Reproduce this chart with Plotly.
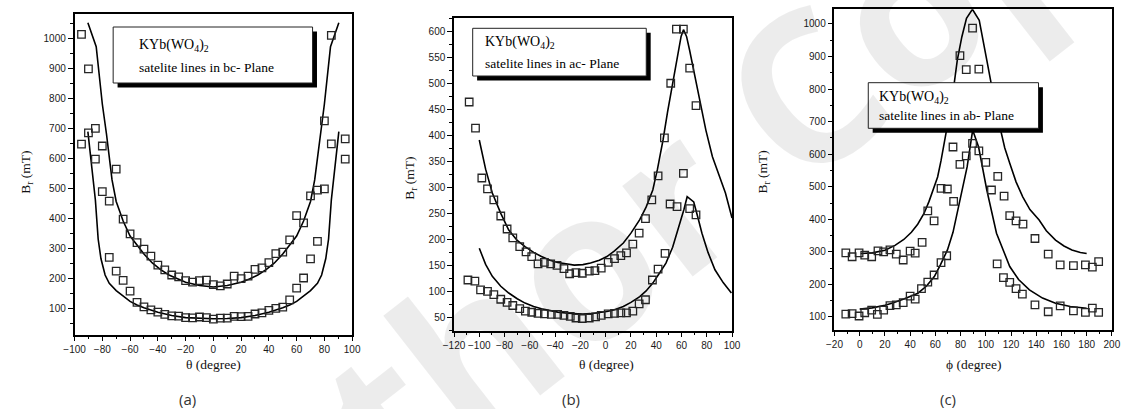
import plotly.graph_objects as go

W, H = 1131, 409

# ---------------- (a) bc-plane ----------------
a_up_theta = [-95, -90, -85, -80, -75, -70, -65, -60, -55, -50, -45, -40, -35, -30, -25, -20, -15, -10, -5, 0,
              5, 10, 15, 20, 25, 30, 35, 40, 45, 50, 55, 60, 65, 70, 75, 80, 85]
a_up_B = [1012, 897, 699, 640, 456, 563, 396, 347, 318, 296, 273, 243, 227, 210, 204, 191, 186, 191, 193, 178,
          174, 180, 206, 198, 206, 229, 234, 251, 281, 286, 327, 408, 384, 474, 493, 724, 1009]
a_lo_theta = [-95, -90, -85, -80, -75, -70, -65, -60, -55, -50, -45, -40, -35, -30, -25, -20, -15, -10, -5, 0,
              5, 10, 15, 20, 25, 30, 35, 40, 45, 50, 55, 60, 65, 70, 75, 80, 85, 95, 95]
a_lo_B = [646, 684, 596, 488, 269, 223, 192, 156, 119, 104, 94, 86, 79, 74, 73, 68, 67, 70, 68, 63,
          66, 66, 72, 71, 72, 80, 84, 92, 99, 103, 127, 166, 200, 264, 322, 497, 647, 664, 596]
a_fit1_theta = [-90.4, -84.4, -80, -77, -73, -70, -65, -60, -55, -50, -44, -38, -32, -26, -20, -10, 0,
                10, 20, 26, 32, 38, 44, 50, 55, 60, 65, 70, 73, 77, 80, 84.4, 90.4]
a_fit1_B = [1051, 971, 780, 680, 527, 455, 390, 340, 310, 280, 250, 228, 210, 197, 186, 175, 170,
            175, 186, 197, 210, 228, 250, 280, 310, 340, 390, 455, 527, 680, 780, 971, 1051]
a_fit2_theta = [-90.4, -87.5, -85, -83, -81, -78, -75, -70, -65, -60, -55, -50, -40, -30, -20, -10, 0,
                10, 20, 30, 40, 50, 55, 60, 65, 70, 75, 78, 81, 83, 85, 87.5, 90.4]
a_fit2_B = [688, 560, 460, 330, 265, 210, 182, 158, 140, 122, 110, 101, 86, 75, 68, 65, 64,
            65, 68, 75, 86, 101, 110, 122, 140, 158, 182, 210, 265, 330, 460, 560, 688]

# ---------------- (b) ac-plane ----------------
b_up_theta = [-108, -103, -98, -93.5, -88.5, -83, -78, -73.5, -68, -63, -58.5, -53.5, -48.5, -43.5, -38.5, -33,
              -28.5, -23.5, -18.5, -13, -8.5, -3.5, 2, 7, 12, 16.5, 21.5, 26.5, 31.5, 36.5, 41.5, 46.5, 51.5,
              56, 61.5, 66.5, 71.5]
b_up_B = [464, 414, 318, 297, 276, 245, 220, 203, 186, 176, 167, 153, 156, 153, 150, 144,
          134, 136, 135, 139, 140, 145, 156, 163, 169, 174, 191, 212, 240, 276, 322, 395, 500,
          604, 604, 529, 457]
b_lo_theta = [-109, -103.5, -99, -93.5, -88.5, -83, -78, -73.5, -68, -63.5, -58.5, -53.5, -48.5, -43, -38, -33,
              -28, -23.5, -18.5, -13, -8, -3.5, 2, 7, 12, 16.5, 21.5, 26.5, 31.5, 37, 41.5, 47, 51, 56.5,
              61.5, 66.5, 71.5]
b_lo_B = [122, 120, 103, 100, 94, 85, 79, 73, 67, 62, 60, 58, 57, 56, 56, 54,
          52, 49, 48, 49, 51, 54, 57, 58, 59, 59, 62, 76, 84, 122, 143, 173, 268, 263,
          327, 259, 247]
b_fit1_theta = [-100, -95, -89.7, -83, -76.7, -70, -63.8, -57, -50.8, -44, -37.9, -30, -24.9, -18, -12, -5, 1,
                7, 14, 20, 27, 32, 37.3, 41, 45.4, 49, 53.2, 57, 59.7, 61.6, 64, 66.4, 70, 74.2, 79.3,
                84.5, 90, 94.8, 100]
b_fit1_B = [391, 335, 289, 250, 218, 198, 186, 175, 167, 160, 155.5, 152, 150.6, 151.5, 154.5, 160, 167,
            178, 193, 212, 238, 262, 295, 335, 391, 445, 500, 550, 590, 603, 590, 564, 520, 468, 410,
            359, 320, 289, 241]
b_fit2_theta = [-100, -95, -89.7, -83, -76.7, -70, -63.8, -57, -50.8, -44, -37.9, -30, -24.9, -18, -12, -5, 1,
                7, 14, 20, 27, 32, 37.3, 42, 47.7, 53, 58.1, 62, 64.5, 67, 69.7, 73, 76.2, 81, 86.5, 93, 99.5]
b_fit2_B = [183, 152, 129, 110, 97, 86, 77.6, 71, 66.7, 63, 60.3, 58, 57, 56.8, 57.3, 59, 61.5,
            65, 71, 79, 90, 101, 116, 133, 154.5, 185, 225, 258, 282, 278, 272, 242, 212, 175, 141.6, 117, 97]

# ---------------- (c) ab-plane ----------------
c_up_phi = [-11, -6, -0.5, 4, 9.5, 14.5, 19, 24, 29, 34.5, 40, 44, 49.5, 54, 59, 64.5, 69.5, 74.5, 74, 79.5,
            84.5, 89.5, 94.5, 100, 104.5, 109.5, 114.5, 119, 124, 129.5, 139, 149.5, 159, 169.5, 179, 184.5,
            189.5, 79.5, 84.5, 89.5, 94.5]
c_up_B = [297, 285, 297, 290, 285, 303, 300, 306, 293, 275, 302, 296, 329, 426, 395, 495, 493, 455, 622, 569,
          595, 633, 610, 575, 490, 532, 471, 411, 395, 385, 341, 293, 260, 258, 260, 253,
          270, 903, 860, 987, 861]
c_lo_phi = [-11, -6, -0.5, 4, 9.5, 14, 19, 24, 29, 34.5, 40, 44, 49, 54, 59, 64.5, 69, 109, 114, 119, 124,
            129, 139, 149.5, 159, 169.5, 179, 184.5, 189.5]
c_lo_B = [109, 110, 103, 113, 121, 108, 121, 135, 137, 144, 164, 155, 187, 207, 229, 267, 288, 263, 221, 206,
          187, 170, 137, 116, 134, 119, 114, 127, 114]
c_fit1_phi = [0.8, 10, 20, 28, 35, 41, 46, 51, 55, 58, 61.8, 64.5, 67, 69, 71.5, 73.5, 77.4, 81, 84.7, 89.4,
              94.8, 100.8, 104.7, 108, 111.2, 115, 119, 124, 129.3, 135, 142.3, 148, 155.3, 162, 168.3, 175, 180]
c_fit1_B = [295, 297, 305, 320, 338, 360, 385, 418, 455, 490, 530, 580, 630, 680, 730, 775, 889, 960, 1017, 1045,
            1011, 889, 807, 740, 684, 620, 572, 515, 469, 430, 398, 365, 336, 318, 306, 298, 295]
c_fit2_phi = [0, 10, 20, 25.5, 35, 46.2, 53, 59.2, 64, 69.6, 74, 77.4, 81, 85.2, 89.6, 94.3, 100.8, 108.5,
              119, 126, 134.6, 145, 155.3, 167, 180]
c_fit2_B = [124, 128, 136, 142, 155, 173, 195, 224, 260, 306, 360, 418, 480, 561, 674, 622, 490, 357,
            255, 215, 183, 158, 142, 132, 127]

x_ticks_a = list(range(-100, 101, 20))
x_ticks_b = list(range(-120, 101, 20))
x_ticks_c = list(range(-20, 201, 20))


def px(x):
    return x / W


def py(y):
    return 1 - y / H


fig = go.Figure()

MARK = dict(symbol="square-open", size=7.5, color="#262626", line=dict(width=1.3, color="#262626"))
LINE = dict(color="black", width=1.6)

panels = [
    ("", [(a_up_theta, a_up_B), (a_lo_theta, a_lo_B)], [(a_fit1_theta, a_fit1_B), (a_fit2_theta, a_fit2_B)]),
    ("2", [(b_up_theta, b_up_B), (b_lo_theta, b_lo_B)], [(b_fit1_theta, b_fit1_B), (b_fit2_theta, b_fit2_B)]),
    ("3", [(c_up_phi, c_up_B), (c_lo_phi, c_lo_B)], [(c_fit1_phi, c_fit1_B), (c_fit2_phi, c_fit2_B)]),
]
for suf, pts, fits in panels:
    for xs, ys in fits:
        fig.add_trace(go.Scatter(x=xs, y=ys, mode="lines", line=LINE, showlegend=False,
                                 xaxis="x" + suf, yaxis="y" + suf, hoverinfo="skip"))
    for xs, ys in pts:
        fig.add_trace(go.Scatter(x=xs, y=ys, mode="markers", marker=MARK, showlegend=False,
                                 xaxis="x" + suf, yaxis="y" + suf))

TICKFONT = dict(family="Liberation Sans", size=10, color="#1a1a1a")


def xax(domain, rng, ticks, anchor):
    return dict(domain=domain, range=rng, tickvals=ticks, ticks="outside", ticklen=4, tickwidth=1,
                tickangle=0,
                tickcolor="black", minor=dict(dtick=10, tick0=0, ticks="outside", ticklen=2, tickcolor="black"),
                showline=True, mirror=True, linecolor="black", linewidth=1.5, showgrid=False, zeroline=False,
                tickfont=TICKFONT, anchor=anchor, fixedrange=True)


def yax(domain, rng, dtick, minor, anchor):
    return dict(domain=domain, range=rng, dtick=dtick, tick0=0, ticks="outside", ticklen=5, tickwidth=1,
                tickcolor="black", minor=dict(dtick=minor, tick0=0, ticks="outside", ticklen=3, tickcolor="black"),
                showline=True, mirror=True, linecolor="black", linewidth=1.5, showgrid=False, zeroline=False,
                tickfont=TICKFONT, anchor=anchor, fixedrange=True)


fig.update_layout(
    width=W, height=H, margin=dict(l=0, r=0, t=0, b=0),
    paper_bgcolor="white", plot_bgcolor="rgba(0,0,0,0)",
    xaxis=xax([px(64.7), px(347.3)], [-100, 100], x_ticks_a, "y"),
    yaxis=yax([py(335), py(14)], [10, 1080], 100, 50, "x"),
    xaxis2=xax([px(451), px(734)], [-120, 100], x_ticks_b, "y2"),
    yaxis2=yax([py(331), py(17.7)], [24, 626], 50, 25, "x2"),
    xaxis3=xax([px(838.3), px(1120.7)], [-20, 200], x_ticks_c, "y3"),
    yaxis3=yax([py(330), py(9.3)], [60, 1045], 100, 50, "x3"),
)

SERIF = "Liberation Serif"
shapes = []
annots = []

# caption boxes with drop shadow
boxes = [
    ((104, 27, 307, 83), (128, 46), (128, 67), "bc"),
    ((470, 28.3, 646.7, 76), (480, 42), (480, 63.5), "ac"),
    ((872.7, 82.7, 1046, 128.3), (882, 97), (882, 115.5), "ab"),
]
for (x0, y0, x1, y1), t1, t2, plane in boxes:
    shapes.append(dict(type="rect", xref="paper", yref="paper", x0=px(x0 + 4.5), x1=px(x1 + 4.5),
                       y0=py(y1 + 4.5), y1=py(y0 + 4.5), fillcolor="black", line=dict(width=0)))
    shapes.append(dict(type="rect", xref="paper", yref="paper", x0=px(x0), x1=px(x1),
                       y0=py(y1), y1=py(y0), fillcolor="white", line=dict(color="#222222", width=1)))
    annots.append(dict(x=px(t1[0]), y=py(t1[1]), xref="paper", yref="paper", xanchor="left", yanchor="middle",
                       text="KYb(WO<sub>4</sub>)<sub>2</sub>", showarrow=False,
                       font=dict(family=SERIF, size=14, color="black")))
    annots.append(dict(x=px(t2[0]), y=py(t2[1]), xref="paper", yref="paper", xanchor="left", yanchor="middle",
                       text="satelite lines in %s- Plane" % plane, showarrow=False,
                       font=dict(family=SERIF, size=13.5, color="black")))

# axis titles
for xc, lab in [(205.7, "θ (degree)"), (606.7, "θ (degree)"), (979.5, "ϕ (degree)")]:
    annots.append(dict(x=px(xc), y=py(364), xref="paper", yref="paper", text=lab, showarrow=False,
                       xanchor="center", yanchor="middle", font=dict(family=SERIF, size=13.5, color="#111111")))
for xc, yc in [(16, 172), (406, 178), (767, 172)]:
    annots.append(dict(x=px(xc), y=py(yc), xref="paper", yref="paper", text="B<sub>r</sub> (mT)",
                       showarrow=False, textangle=-90, xanchor="center", yanchor="middle",
                       font=dict(family=SERIF, size=13.5, color="#111111")))

# panel letters
for xc, lab in [(180, "(a)"), (570, "(b)"), (954, "(c)")]:
    annots.append(dict(x=px(xc), y=py(399), xref="paper", yref="paper", text=lab, showarrow=False,
                       xanchor="center", yanchor="middle",
                       font=dict(family="Open Sans", size=15, color="#333333")))

# diagonal watermark
annots.append(dict(x=px(640), y=py(215), xref="paper", yref="paper", text="<b>Author Copy</b>",
                   showarrow=False, textangle=-38, xanchor="center", yanchor="middle",
                   font=dict(family="Open Sans", size=210, color="rgba(0,0,0,0.075)")))

fig.update_layout(shapes=shapes, annotations=annots)
fig.write_html("out.html")
